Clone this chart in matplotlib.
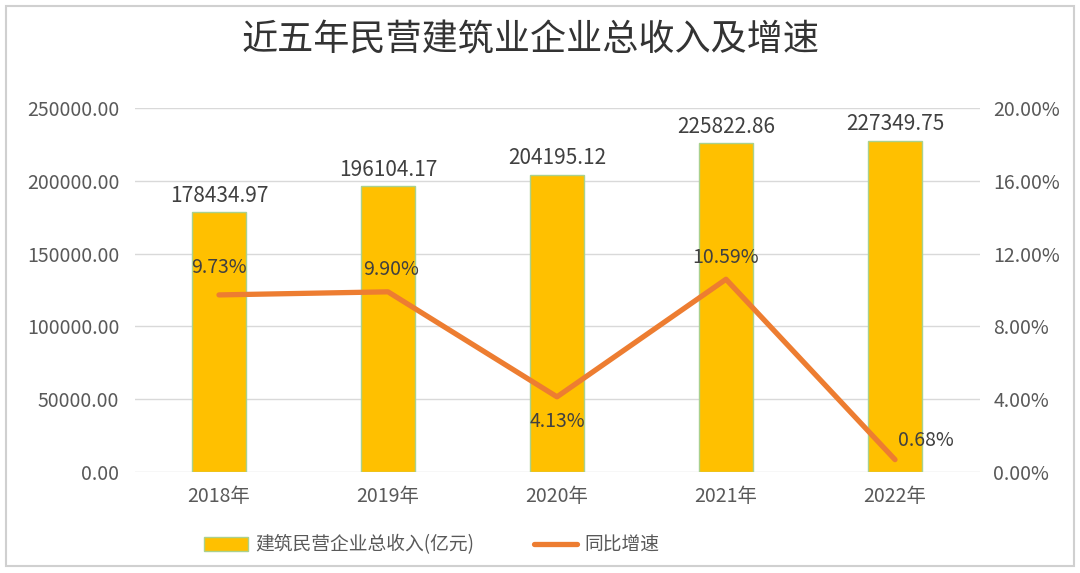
import numpy as np
import matplotlib
matplotlib.use("Agg")
import matplotlib.pyplot as plt
from matplotlib.patches import Rectangle, Patch
from matplotlib.lines import Line2D

plt.rcParams['font.family'] = ['Noto Sans CJK SC', 'DejaVu Sans']

years = ["2018年", "2019年", "2020年", "2021年", "2022年"]
revenue = [178434.97, 196104.17, 204195.12, 225822.86, 227349.75]
growth = [9.73, 9.90, 4.13, 10.59, 0.68]
growth_labels = ["9.73%", "9.90%", "4.13%", "10.59%", "0.68%"]
# label offsets in points (dx, dy)
growth_offsets = [(0, 20), (2, 16), (0, -18), (0, 16), (22, 14)]

bar_color = "#FFC000"
bar_edge = "#A9D18E"
line_color = "#ED7D31"
text_color = "#404040"
tick_color = "#595959"
grid_color = "#D9D9D9"

fig = plt.figure(figsize=(10.8, 5.73), dpi=100)
fig.patches.append(Rectangle((0.006, 0.012), 0.988, 0.978, transform=fig.transFigure,
                             fill=False, edgecolor="#D0D0D0", linewidth=1.5))

ax = fig.add_axes([134.5 / 1080, 1 - 472 / 573, 845 / 1080, 364 / 573])
x = np.arange(len(years))

ax.bar(x, revenue, width=0.325, color=bar_color, edgecolor=bar_edge, linewidth=1.0, zorder=2)
ax.set_xlim(-0.5, 4.5)
ax.set_ylim(0, 250000)
ax.set_yticks(np.arange(0, 250001, 50000))
ax.set_yticklabels(["%.2f" % v for v in np.arange(0, 250001, 50000)])
ax.set_xticks(x)
ax.set_xticklabels(years)
ax.grid(axis='y', color=grid_color, linewidth=1.0, zorder=0)
ax.set_axisbelow(True)
for s in ax.spines.values():
    s.set_visible(False)
ax.tick_params(axis='both', length=0, labelsize=14, colors=tick_color, pad=10)
ax.tick_params(axis='y', pad=11)

for xi, v in zip(x, revenue):
    ax.annotate("%.2f" % v, (xi, v), xytext=(0, 4), textcoords='offset points',
                ha='center', va='bottom', fontsize=15, color=text_color)

ax2 = ax.twinx()
ax2.plot(x, growth, color=line_color, linewidth=3.8, solid_capstyle='round', zorder=3)
ax2.set_ylim(0, 20)
ax2.set_yticks(np.arange(0, 20.01, 4))
ax2.set_yticklabels(["%.2f%%" % v for v in np.arange(0, 20.01, 4)])
for s in ax2.spines.values():
    s.set_visible(False)
ax2.tick_params(axis='y', length=0, labelsize=14, colors=tick_color, pad=10)

for xi, v, lab, off in zip(x, growth, growth_labels, growth_offsets):
    ax2.annotate(lab, (xi, v), xytext=off, textcoords='offset points',
                 ha='center', va='center', fontsize=14, color=text_color)

fig.text(0.491, 1 - 40 / 573, "近五年民营建筑业企业总收入及增速", ha='center', va='center',
         fontsize=26, fontweight='medium', color="#333333")

handles = [Patch(facecolor=bar_color, edgecolor=bar_edge, linewidth=1.0),
           Line2D([0], [0], color=line_color, linewidth=3.8, solid_capstyle='round')]
fig.legend(handles, ["建筑民营企业总收入(亿元)", "同比增速"], loc='center',
           bbox_to_anchor=(0.400, 1 - 545 / 573), ncol=2, frameon=False,
           fontsize=13.5, labelcolor=tick_color, handlelength=2.3, handleheight=0.75,
           columnspacing=3.2, handletextpad=0.4)

fig.savefig("out.png", dpi=100)
